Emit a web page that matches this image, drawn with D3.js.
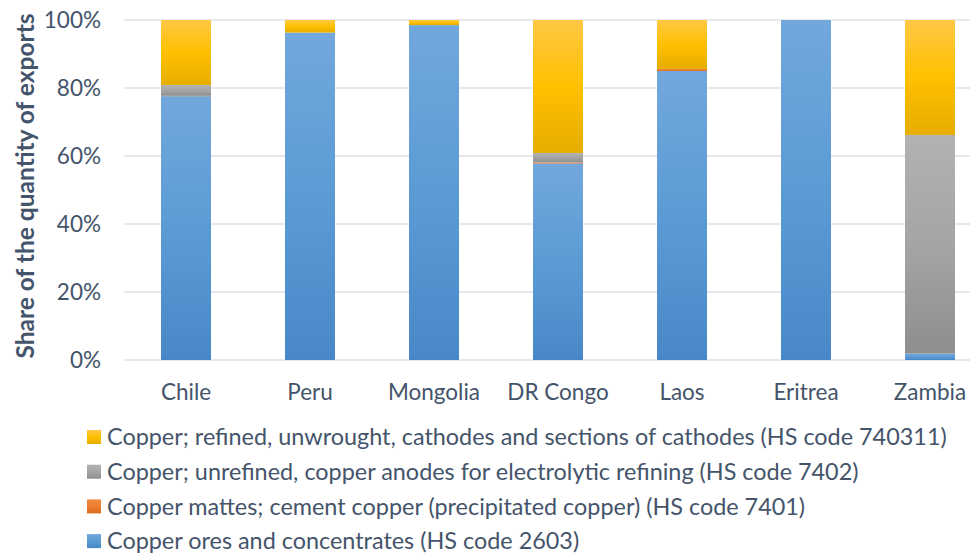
<!DOCTYPE html>
<html><head><meta charset="utf-8">
<script src="https://cdn.jsdelivr.net/npm/d3@7"></script>
<style>body{margin:0;background:#fff;}svg{display:block;font-family:Lato,"Open Sans",sans-serif;}</style>
</head><body>
<svg id="c" width="970" height="554"></svg>
<script>
const categories = ["Chile","Peru","Mongolia","DR Congo","Laos","Eritrea","Zambia"];
const seriesNames = [
  "Copper ores and concentrates (HS code 2603)",
  "Copper mattes; cement copper (precipitated copper) (HS code 7401)",
  "Copper; unrefined, copper anodes for electrolytic refining (HS code 7402)",
  "Copper; refined, unwrought, cathodes and sections of cathodes (HS code 740311)"
];
const ores     = [77.6, 96.3, 98.5, 57.8, 85.0, 100, 1.9];
const mattes   = [0.1, 0.0, 0.0, 0.3, 0.6, 0, 0.0];
const anodes   = [3.2, 0.0, 0.0, 2.8, 0.0, 0, 64.3];
const cathodes = [19.1, 3.7, 1.5, 39.1, 14.4, 0, 33.8];
const yTicks = [0,20,40,60,80,100];
const seriesValues = [ores, mattes, anodes, cathodes];
const colors = [
  ["#72a8dc","#5b9bd5","#4888c8"],
  ["#f28a44","#ed7d31","#d86a20"],
  ["#b2b2b2","#a5a5a5","#8e8e8e"],
  ["#ffc845","#ffc000","#e6ad00"]
];

const svg = d3.select("#c");
const defs = svg.append("defs");
colors.forEach((c,i)=>{
  const g = defs.append("linearGradient").attr("id","g"+i).attr("x1",0).attr("y1",0).attr("x2",0).attr("y2",1);
  g.append("stop").attr("offset","0%").attr("stop-color",c[0]);
  g.append("stop").attr("offset","50%").attr("stop-color",c[1]);
  g.append("stop").attr("offset","100%").attr("stop-color",c[2]);
});

const x = d3.scaleBand().domain(categories).range([124, 992]).paddingInner(0.597).paddingOuter(0.2985);
const y = d3.scaleLinear().domain([0,100]).range([360,20]);
const textColor = "#44546a";

// gridlines
svg.append("g").selectAll("line").data(yTicks).join("line")
  .attr("x1",124).attr("x2",992).attr("y1",d=>y(d)).attr("y2",d=>y(d))
  .attr("stroke","#dde2ea").attr("stroke-width",1.5);

// stacked data
const data = categories.map((c,i)=>{ const o={cat:c}; seriesValues.forEach((s,j)=>o["s"+j]=s[i]); return o; });
const stack = d3.stack().keys(seriesValues.map((_,j)=>"s"+j))(data);
const bw = 50;
svg.append("g").selectAll("g").data(stack).join("g")
  .attr("fill",(d,i)=>"url(#g"+i+")")
  .selectAll("rect").data(d=>d).join("rect")
  .attr("x",d=>x(d.data.cat)+x.bandwidth()/2-bw/2)
  .attr("width",bw)
  .attr("y",d=>y(d[1]))
  .attr("height",d=>Math.max(0,y(d[0])-y(d[1])));

// y axis
const yAxis = d3.axisLeft(y).tickValues(yTicks).tickFormat(d=>d+"%").tickSize(0).tickPadding(0);
const ya = svg.append("g").attr("transform","translate(101,0)").call(yAxis);
ya.select(".domain").remove();
ya.selectAll("text").attr("fill",textColor).style("font-size","22.5px").style("font-family","Lato, sans-serif").attr("dy","0.35em");

// x axis
const xAxis = d3.axisBottom(x).tickSize(0).tickPadding(0);
const xa = svg.append("g").attr("transform","translate(0,392)").call(xAxis);
xa.select(".domain").remove();
xa.selectAll("text").attr("fill",textColor).style("font-size","22.5px").style("font-family","Lato, sans-serif").attr("y",0).attr("dy","0.35em");

// y title
svg.append("text").attr("transform","translate(25,186) rotate(-90)")
  .attr("text-anchor","middle").attr("dy","0.35em").attr("fill",textColor)
  .style("font-size","24.5px").style("font-weight","bold").text("Share of the quantity of exports");

// legend (reverse order)
const legendOrder = [3,2,1,0];
const lg = svg.append("g").selectAll("g").data(legendOrder).join("g")
  .attr("transform",(d,i)=>`translate(87,${437+i*34.7})`);
lg.append("rect").attr("x",0).attr("y",-7).attr("width",14).attr("height",14).attr("fill",d=>"url(#g"+d+")");
lg.append("text").attr("x",20).attr("dy","0.35em").attr("fill",textColor)
  .style("font-size","23.4px").text(d=>seriesNames[d]);
</script>
</body></html>
